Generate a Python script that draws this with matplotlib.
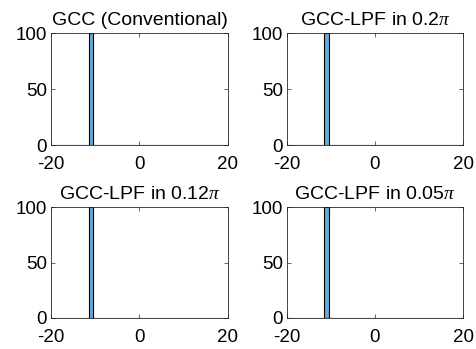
import numpy as np
import matplotlib
matplotlib.use("Agg")
import matplotlib.pyplot as plt

plt.rcParams['font.family'] = ['Liberation Sans', 'DejaVu Sans']
plt.rcParams['mathtext.fontset'] = 'custom'
plt.rcParams['mathtext.it'] = 'Liberation Serif:italic'
plt.rcParams['mathtext.rm'] = 'Liberation Sans'
plt.rcParams['axes.unicode_minus'] = False

titles = ["GCC (Conventional)", r"GCC-LPF in 0.2$\it{\pi}$",
          r"GCC-LPF in 0.12$\it{\pi}$", r"GCC-LPF in 0.05$\it{\pi}$"]
# estimated delay (samples) for each trial; all 100 trials agree
delay_counts = [100, 100, 100, 100]
delay_value = [-11, -11, -11, -11]
bin_edges = np.arange(-20.5, 21.5, 1.0)
x_ticks = [-20, 0, 20]
y_ticks = [0, 50, 100]

face = (0.4, 0.6682, 0.8446)
edge = '#262626'

fig = plt.figure(figsize=(4.77, 3.49), dpi=100)
positions = [
    (51, 33, 228, 145),
    (287, 33, 463, 145),
    (51, 207, 228, 318),
    (287, 207, 463, 318),
]
W, H = 477, 349
for i, (x0, y0, x1, y1) in enumerate(positions):
    ax = fig.add_axes([x0 / W, 1 - y1 / H, (x1 - x0) / W, (y1 - y0) / H])
    data = np.repeat(delay_value[i], delay_counts[i])
    ax.hist(data, bins=bin_edges, color=face, edgecolor='black', linewidth=0.8)
    ax.set_xlim(-20, 20)
    ax.set_ylim(0, 100)
    ax.set_xticks(x_ticks)
    ax.set_yticks(y_ticks)
    ax.tick_params(direction='in', length=3, width=0.5, colors=edge,
                   labelsize=13.5, labelcolor='black', top=True, right=True)
    ax.tick_params(axis='x', pad=8)
    ax.tick_params(axis='y', pad=3)
    for s in ax.spines.values():
        s.set_color(edge)
        s.set_linewidth(0.6)
    ax.set_title(titles[i], fontsize=14, pad=6)

fig.savefig("out.png", dpi=100)
